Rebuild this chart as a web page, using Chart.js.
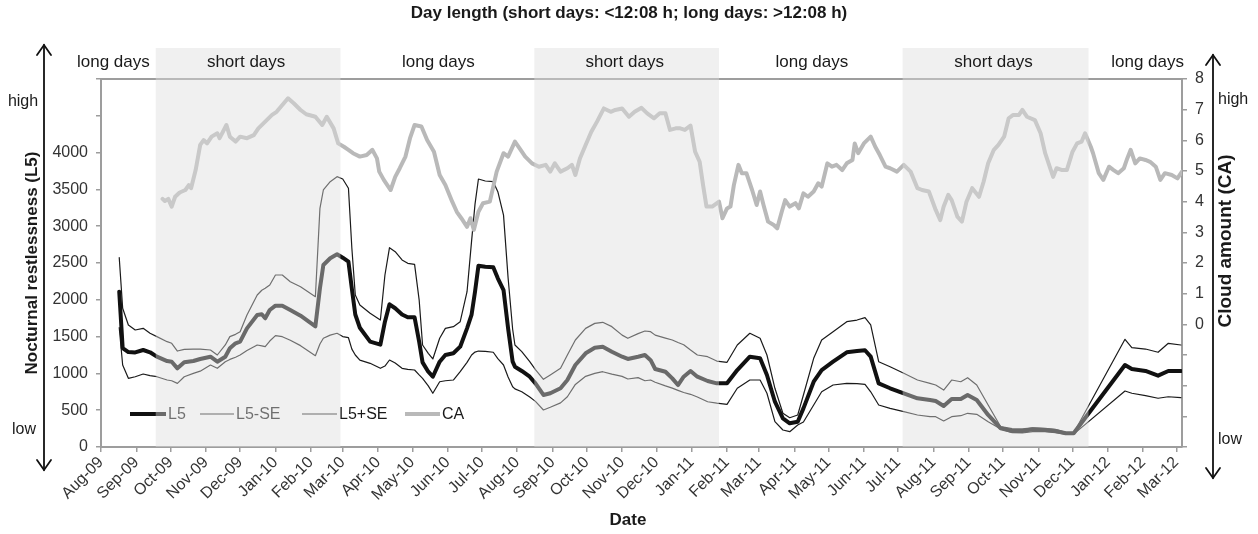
<!DOCTYPE html>
<html>
<head>
<meta charset="utf-8">
<script src="https://cdn.jsdelivr.net/npm/chart.js@4.4.1/dist/chart.umd.min.js"></script>
<style>
html,body{margin:0;padding:0;background:#fff;}
#wrap{width:1258px;height:534px;position:relative;}
</style>
</head>
<body>
<div id="wrap"><canvas id="c" width="1258" height="534"></canvas></div>
<script>
const FONT = '"Liberation Sans", Arial, Helvetica, sans-serif';

// x values are days since 2009-08-01
const AXIS_START = Date.UTC(2009, 7, 1);
const AXIS_END_DAY = 948;

const monthLabels = ['Aug-09','Sep-09','Oct-09','Nov-09','Dec-09','Jan-10','Feb-10','Mar-10','Apr-10','May-10','Jun-10','Jul-10',
  'Aug-10','Sep-10','Oct-10','Nov-10','Dec-10','Jan-11','Feb-11','Mar-11','Apr-11','May-11','Jun-11','Jul-11',
  'Aug-11','Sep-11','Oct-11','Nov-11','Dec-11','Jan-12','Feb-12','Mar-12'];

const shortDayStart = ['2009-09-18','2010-08-16','2011-07-05'];
const shortDayEnd   = ['2010-02-27','2011-01-25','2011-12-15'];

const l5Days = [
  16,19,24,30,37,43,49,58,62,67,
  73,81,87,96,102,109,113,118,122,128,
  137,141,144,148,153,159,166,175,188,192,
  195,201,207,212,217,220,223,227,236,245,
  249,253,258,264,269,275,279,282,287,291,
  297,302,309,315,321,325,328,331,337,344,
  348,353,357,361,363,369,376,381,388,394,
  403,409,416,425,433,440,448,457,462,471,
  477,482,486,495,501,506,511,517,523,532,
  540,549,558,569,578,584,591,598,604,611,
  616,625,632,642,654,663,670,675,682,692,
  704,716,727,732,739,746,754,760,768,778,
  789,799,808,817,828,837,846,853,898,904,
  916,927,936,947];

const l5Values = [
  2110,1345,1290,1285,1318,1287,1227,1168,1159,1069,
  1151,1168,1196,1227,1159,1227,1341,1409,1431,1612,
  1793,1803,1749,1861,1920,1920,1861,1784,1640,2156,
  2473,2564,2618,2572,2518,2150,1800,1620,1431,1390,
  1703,1939,1885,1800,1762,1762,1431,1150,1023,955,
  1159,1250,1273,1363,1612,1800,2110,2463,2450,2441,
  2292,2133,1612,1159,1091,1033,955,865,707,730,
  798,910,1114,1273,1349,1363,1295,1227,1196,1227,
  1250,1180,1060,1023,933,842,955,1033,955,897,
  865,865,1046,1227,1205,978,615,390,322,344,
  525,887,1046,1159,1287,1304,1314,1227,865,798,
  730,662,639,625,557,652,652,707,639,435,
  254,217,217,240,231,217,186,186,1114,1060,
  1033,969,1033,1033];

const l5PlusSE = [
  2572,1885,1658,1590,1612,1545,1500,1431,1409,1304,
  1327,1331,1331,1318,1250,1386,1500,1531,1567,1793,
  2065,2130,2156,2201,2337,2337,2246,2178,2042,3243,
  3492,3605,3673,3641,3515,2700,2065,1929,1817,1725,
  2337,2708,2654,2541,2496,2482,2000,1386,1273,1196,
  1477,1612,1635,1703,2110,2800,3300,3641,3614,3605,
  3469,3150,2300,1600,1386,1295,1159,1050,920,978,
  1069,1250,1454,1612,1680,1694,1635,1520,1477,1540,
  1576,1567,1520,1480,1454,1420,1390,1318,1250,1227,
  1168,1151,1386,1545,1477,1250,798,458,398,435,
  707,1205,1454,1567,1703,1725,1757,1658,1159,1091,
  1001,910,865,842,774,910,887,942,842,571,
  276,250,245,260,255,240,200,190,1463,1349,
  1331,1287,1409,1386];

const l5MinusSE = [
  1621,1114,933,955,992,970,955,910,900,865,
  955,1000,1030,1114,1069,1159,1190,1220,1250,1310,
  1386,1375,1363,1440,1513,1499,1450,1377,1241,1400,
  1477,1520,1545,1500,1485,1330,1250,1180,1137,1069,
  1100,1182,1140,1069,1055,1046,980,933,830,730,
  887,900,910,1023,1150,1250,1290,1304,1300,1287,
  1200,1114,950,819,790,751,680,620,503,540,
  600,683,850,960,1001,1023,990,960,924,942,
  900,910,880,830,800,770,740,716,680,615,
  595,580,798,910,910,730,344,231,208,299,
  340,571,751,842,865,860,852,750,571,525,
  480,435,412,412,353,412,425,458,444,344,
  245,195,190,210,210,195,175,175,761,730,
  697,662,683,670];

const caDays = [
  54,56,59,62,65,69,74,77,79,83,
  87,90,93,97,102,104,110,113,118,122,
  128,134,138,144,150,154,159,164,169,175,
  180,188,194,198,204,208,213,217,221,227,
  233,238,242,244,248,254,258,262,267,271,
  275,281,286,292,297,302,308,312,316,321,
  324,327,331,335,341,347,353,357,363,368,
  372,378,384,390,394,398,403,409,413,416,
  420,425,430,435,441,447,451,457,463,468,
  474,479,485,490,495,499,504,508,512,517,
  521,525,528,531,536,542,545,549,552,555,
  559,562,566,571,575,578,581,585,590,593,
  597,600,604,609,612,616,620,625,629,632,
  637,641,645,650,654,659,661,664,669,675,
  679,683,688,692,698,704,710,716,720,726,
  732,736,739,743,746,751,755,759,764,770,
  774,778,783,787,792,796,800,805,808,812,
  819,824,828,833,835,838,843,847,852,856,
  860,863,868,870,875,879,884,888,892,897,
  900,903,907,911,916,920,925,929,933,939,
  944,948];

const caValues = [
  4.09,4.02,4.09,3.84,4.16,4.30,4.38,4.54,4.44,5.03,
  5.85,6.01,5.90,6.12,6.23,6.07,6.50,6.12,5.96,6.12,
  6.07,6.17,6.39,6.61,6.83,6.93,7.15,7.37,7.21,6.99,
  6.85,6.77,6.50,6.77,6.39,5.90,5.79,5.69,5.58,5.47,
  5.52,5.69,5.41,4.98,4.71,4.38,4.81,5.09,5.47,6.07,
  6.50,6.45,6.01,5.63,4.87,4.54,4.00,3.67,3.46,3.18,
  3.46,3.08,3.67,3.95,4.00,4.98,5.58,5.47,5.96,5.69,
  5.47,5.25,5.14,5.20,4.98,5.25,4.98,5.09,5.20,4.87,
  5.41,5.85,6.28,6.61,7.04,6.93,6.99,7.04,6.77,6.93,
  7.06,6.88,6.72,6.88,6.88,6.34,6.39,6.39,6.34,6.48,
  5.63,5.30,4.54,3.84,3.84,4.00,3.46,3.78,3.84,4.54,
  5.20,4.93,4.93,4.38,3.89,4.33,3.89,3.35,3.24,3.13,
  3.67,4.05,3.84,3.95,3.78,4.27,4.16,4.33,4.60,4.49,
  5.25,5.14,5.20,5.03,5.25,5.36,5.90,5.58,5.90,6.12,
  5.79,5.52,5.14,5.09,4.98,5.20,4.98,4.44,4.38,4.33,
  3.73,3.40,3.84,4.22,4.05,3.51,3.35,4.00,4.44,4.16,
  4.65,5.25,5.69,5.85,6.12,6.72,6.83,6.83,6.99,6.77,
  6.66,6.23,5.58,5.03,4.81,5.09,5.03,5.03,5.63,5.90,
  5.96,6.23,5.79,5.58,4.93,4.71,5.14,5.03,4.93,5.09,
  5.41,5.69,5.25,5.41,5.36,5.30,5.14,4.71,4.93,4.87,
  4.76,4.98];

// ---- helpers ----
const toDay = s => (Date.parse(s + 'T00:00:00Z') - AXIS_START) / 864e5;
const monthTicks = monthLabels.map((_, i) => (Date.UTC(2009, 7 + i, 1) - AXIS_START) / 864e5);
const pts = (xs, ys) => xs.slice(0, Math.min(xs.length, ys.length)).map((x, i) => ({x, y: ys[i]}));

const TXT = '#1a1a1a';
const AXC = '#9d9d9d';

const decor = {
  id: 'decor',
  beforeDatasetsDraw(chart) {
    const {ctx, chartArea: a} = chart;
    ctx.save();
    ctx.strokeStyle = AXC; ctx.lineWidth = 2;
    ctx.beginPath(); ctx.moveTo(a.left - 1, a.top); ctx.lineTo(a.right + 1, a.top); ctx.stroke();
    ctx.restore();
  },
  afterDatasetsDraw(chart) {
    const {ctx, chartArea: a} = chart;
    const xs = chart.scales.x;
    const ds = chart.data.datasets;
    // legend (inside plot)
    ctx.save();
    const ly = 414;
    const items = [
      {i: 1, x0: 130, x1: 166},
      {i: 2, x0: 200, x1: 234},
      {i: 3, x0: 302, x1: 337},
      {i: 0, x0: 405, x1: 440}
    ];
    ctx.font = '16px ' + FONT;
    ctx.textBaseline = 'middle';
    ctx.textAlign = 'left';
    items.forEach(it => {
      const d = ds[it.i];
      ctx.strokeStyle = d.borderColor; ctx.lineWidth = d.borderWidth; ctx.lineCap = 'butt';
      ctx.beginPath(); ctx.moveTo(it.x0, ly); ctx.lineTo(it.x1, ly); ctx.stroke();
      ctx.fillStyle = TXT;
      ctx.fillText(d.label, it.x1 + 2, ly + 1);
    });
    // short-day overlay bands
    ctx.fillStyle = 'rgba(220,220,220,0.44)';
    shortDayStart.forEach((s, k) => {
      const x0 = xs.getPixelForValue(toDay(s));
      const x1 = xs.getPixelForValue(toDay(shortDayEnd[k]));
      ctx.fillRect(x0, 48, x1 - x0, a.bottom - 48);
    });
    ctx.restore();
  },
  afterDraw(chart) {
    const {ctx, chartArea: a} = chart;
    const xs = chart.scales.x;
    ctx.save();
    // day-length labels
    ctx.font = '17px ' + FONT;
    ctx.fillStyle = TXT;
    ctx.textBaseline = 'middle';
    const ly = 62;
    const bands = shortDayStart.map((s, k) => [xs.getPixelForValue(toDay(s)), xs.getPixelForValue(toDay(shortDayEnd[k]))]);
    ctx.textAlign = 'right';
    ctx.fillText('long days', bands[0][0] - 6, ly);
    ctx.textAlign = 'center';
    bands.forEach((b, k) => {
      ctx.fillText('short days', (b[0] + b[1]) / 2 - 2, ly);
      if (k < bands.length - 1) ctx.fillText('long days', (b[1] + bands[k + 1][0]) / 2 + 1, ly);
    });
    ctx.textAlign = 'right';
    ctx.fillText('long days', a.right + 2, ly);

    // arrows
    const arrow = (x, y0, y1) => {
      ctx.strokeStyle = '#111'; ctx.lineWidth = 1.8; ctx.lineCap = 'round'; ctx.lineJoin = 'miter';
      ctx.beginPath(); ctx.moveTo(x, y0); ctx.lineTo(x, y1); ctx.stroke();
      ctx.beginPath(); ctx.moveTo(x - 7, y0 + 10); ctx.lineTo(x, y0); ctx.lineTo(x + 7, y0 + 10); ctx.stroke();
      ctx.beginPath(); ctx.moveTo(x - 7, y1 - 10); ctx.lineTo(x, y1); ctx.lineTo(x + 7, y1 - 10); ctx.stroke();
    };
    arrow(44, 45, 470);
    arrow(1213, 55, 478);

    ctx.font = '16px ' + FONT;
    ctx.fillStyle = TXT;
    ctx.textAlign = 'center';
    ctx.fillText('high', 23, 102);
    ctx.fillText('low', 24, 430);
    ctx.textAlign = 'left';
    ctx.fillText('high', 1218, 100);
    ctx.fillText('low', 1218, 440);

    // right axis title
    ctx.font = 'bold 19px ' + FONT;
    ctx.save();
    ctx.translate(1226, 241);
    ctx.rotate(-Math.PI / 2);
    ctx.textAlign = 'center';
    ctx.fillText('Cloud amount (CA)', 0, 0);
    ctx.restore();

    // x axis title
    ctx.font = 'bold 17px ' + FONT;
    ctx.textAlign = 'center';
    ctx.fillText('Date', 628, 520);
    ctx.restore();
  }
};

const tickFont = {family: FONT, size: 16};

new Chart(document.getElementById('c'), {
  type: 'line',
  data: {
    datasets: [
      {label: 'CA', data: pts(caDays, caValues), yAxisID: 'y2', borderColor: '#b9b9b9', borderWidth: 4},
      {label: 'L5', data: pts(l5Days, l5Values), yAxisID: 'y', borderColor: '#111111', borderWidth: 4},
      {label: 'L5-SE', data: pts(l5Days, l5MinusSE), yAxisID: 'y', borderColor: '#1a1a1a', borderWidth: 1.2},
      {label: 'L5+SE', data: pts(l5Days, l5PlusSE), yAxisID: 'y', borderColor: '#1a1a1a', borderWidth: 1.2}
    ]
  },
  options: {
    responsive: false,
    animation: false,
    elements: {
      point: {radius: 0, hoverRadius: 0},
      line: {tension: 0, borderJoinStyle: 'round', borderCapStyle: 'round', fill: false}
    },
    layout: {padding: 0},
    plugins: {
      legend: {display: false},
      tooltip: {enabled: false},
      title: {
        display: true,
        text: 'Day length (short days: <12:08 h; long days: >12:08 h)',
        color: TXT,
        font: {family: FONT, size: 17, weight: 'bold', lineHeight: 1.2},
        padding: {top: 3, bottom: 55.6}
      }
    },
    scales: {
      x: {
        type: 'linear',
        min: 0,
        max: AXIS_END_DAY,
        afterBuildTicks: s => { s.ticks = monthTicks.map(v => ({value: v})); },
        afterFit: s => { s.height = 87; },
        ticks: {
          autoSkip: false, minRotation: 45, maxRotation: 45,
          font: tickFont, color: '#333', padding: 1,
          callback: (v, i) => monthLabels[i]
        },
        grid: {drawOnChartArea: false, drawTicks: true, tickLength: 5, color: AXC, lineWidth: 1.5},
        border: {display: true, color: AXC, width: 2}
      },
      y: {
        position: 'left',
        min: 0, max: 5000,
        afterFit: s => { s.width = 101; },
        ticks: {stepSize: 500, font: tickFont, color: '#333', padding: 8,
          callback: v => (v <= 4000 ? String(v) : '')},
        grid: {drawOnChartArea: false, drawTicks: true, tickLength: 5, color: AXC, lineWidth: 1.5},
        border: {display: true, color: AXC, width: 2},
        title: {display: true, text: 'Nocturnal restlessness (L5)', color: TXT,
          font: {family: FONT, size: 17, weight: 'bold', lineHeight: 1.2}, padding: {top: 22, bottom: 0}}
      },
      y2: {
        position: 'right',
        min: -4, max: 8,
        afterFit: s => { s.width = 76; },
        ticks: {stepSize: 1, font: tickFont, color: '#333', padding: 8,
          callback: v => (v >= 0 ? String(v) : '')},
        grid: {drawOnChartArea: false, drawTicks: true, tickLength: 5, color: AXC, lineWidth: 1.5},
        border: {display: true, color: AXC, width: 2}
      }
    }
  },
  plugins: [decor]
});
</script>
</body>
</html>
